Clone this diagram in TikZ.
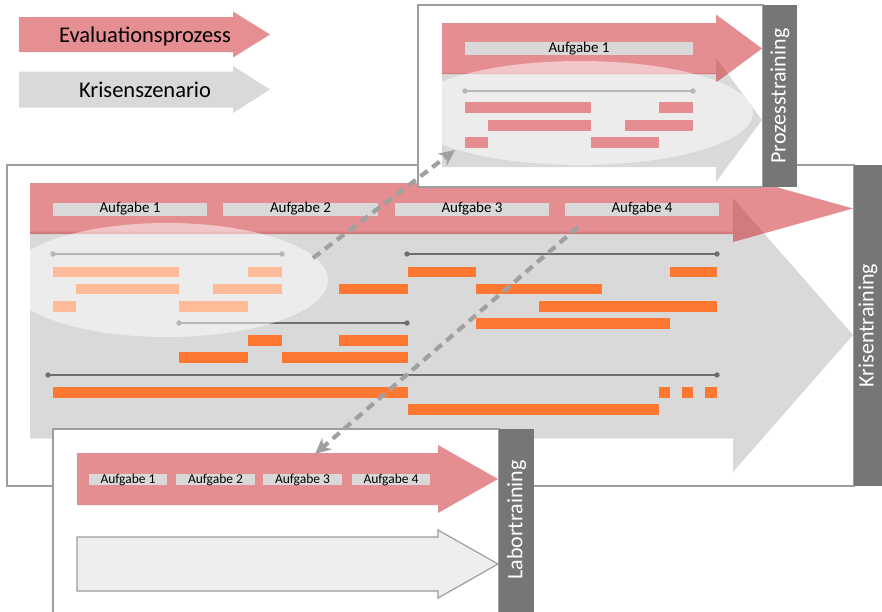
\documentclass[tikz,border=0pt]{standalone}
\usepackage{fontspec}
\setmainfont{Carlito}
\usetikzlibrary{arrows.meta}

\definecolor{evalred}{RGB}{205,31,37}
\definecolor{scengray}{RGB}{217,217,217}
\definecolor{taskgray}{RGB}{217,217,217}
\definecolor{actorange}{RGB}{255,120,50}
\definecolor{tlgray}{RGB}{110,110,110}
\definecolor{bargray}{RGB}{118,118,118}
\definecolor{framegray}{RGB}{158,158,158}
\definecolor{arrowdash}{RGB}{160,160,160}
\definecolor{procpink}{RGB}{229,141,144}
\definecolor{labfill}{RGB}{238,238,238}

% block arrow: [style] x-start, x-head-base, x-tip, y-centre, half body height, half head height
\newcommand\blockarrow[7][]{%
  \path[#1] (#2,#5-#6) -- (#3,#5-#6) -- (#3,#5-#7) -- (#4,#5)
    -- (#3,#5+#7) -- (#3,#5+#6) -- (#2,#5+#6) -- cycle;}

\begin{document}
\begin{tikzpicture}[x=1pt,y=-1pt,
  frame/.style={draw=framegray, line width=1.2pt, fill=white},
  sidebar/.style={fill=bargray},
  sidelabel/.style={text=white, rotate=90, inner sep=0pt,
    font=\fontsize{22}{26}\selectfont},
  evalarrow/.style={fill=evalred, fill opacity=.5},
  scenarrow/.style={fill=scengray},
  labarrow/.style={fill=labfill, draw=framegray, line width=1.2pt},
  task/.style={fill=taskgray, inner sep=0pt, minimum height=11.5pt,
    font=\fontsize{15}{17}\selectfont},
  smalltask/.style={task, minimum height=11pt, font=\fontsize{13.5}{15}\selectfont},
  timeline/.style={draw=tlgray, line width=1.5pt},
  action/.style={fill=actorange},
  procbar/.style={fill=procpink},
  focus/.style={fill=white, fill opacity=.5},
  dasharrow/.style={draw=arrowdash, line width=4.2pt, dash pattern=on 9pt off 6pt,
    -{Stealth[length=16pt,width=15pt]}},
  legendtext/.style={font=\fontsize{22.5}{26}\selectfont, anchor=base, inner sep=0pt}]

\useasboundingbox (0,0) rectangle (882,611);
\clip (0,0) rectangle (882,611);

% ---------------- Krisentraining ----------------
\draw[frame] (7,165) rectangle (854,486);
\fill[sidebar] (854,165) rectangle (882,486);
\node[sidelabel] (kris-label) at (868,325.5) {Krisentraining};

\blockarrow[scenarrow]{30}{733}{853}{335}{103.5}{137}
\blockarrow[evalarrow]{30}{733}{853}{208.5}{25.5}{33.5}

\node[task, minimum width=154pt] (k-a1) at (130,209) {Aufgabe 1};
\node[task, minimum width=155pt] (k-a2) at (300.5,209) {Aufgabe 2};
\node[task, minimum width=154pt] (k-a3) at (472,209) {Aufgabe 3};
\node[task, minimum width=154pt] (k-a4) at (642,209) {Aufgabe 4};

% time lines
\foreach \a/\b/\y in {53/282/254, 407/717/254, 179/407/323, 48/717/375}{
  \draw[timeline] (\a,\y) -- (\b,\y);
  \fill[tlgray] (\a,\y) circle[radius=2.7pt] (\b,\y) circle[radius=2.7pt];
}

% actions
\foreach \a/\b/\y in {53/179/266.5, 248/282/266.5, 408/476/266.5, 670/717/266.5,
    76/179/283.5, 213/282/283.5, 339/408/283.5, 476/602/283.5,
    53/76/301, 179/248/301, 539/717/301,
    476/670/318,
    248/282/335, 339/408/335,
    179/248/352, 282/408/352,
    53/408/387, 659/670/387, 682/693/387, 705/717/387,
    408/659/404}{
  \fill[action] (\a,\y) rectangle (\b,\y+10.5);
}

% highlighted section, kept inside the scenario arrow
\begin{scope}
  \clip (30,175) rectangle (733,438);
  \fill[focus] (167,280) ellipse[x radius=161, y radius=57];
\end{scope}

% ---------------- Prozesstraining ----------------
\draw[frame] (418,5) rectangle (763,187);
\fill[sidebar] (763,5) rectangle (797,187);
\node[sidelabel] (proz-label) at (780,96) {Prozesstraining};

\blockarrow[scenarrow]{442}{716}{762}{120}{47}{62}
\blockarrow[evalarrow]{442}{716}{762}{48.5}{25.5}{34}
\node[task, minimum width=228pt, minimum height=11pt] (p-a1) at (579,48.5) {Aufgabe 1};

\draw[timeline] (465,91) -- (693,91);
\fill[tlgray] (465,91) circle[radius=2.7pt] (693,91) circle[radius=2.7pt];

\begin{scope}
  \clip (442,14) rectangle (762,182);
  \fill[focus] (580,113) ellipse[x radius=173, y radius=52];
\end{scope}

\foreach \a/\b/\y in {465/591/102, 659/693/102,
    488/591/119.5, 625/693/119.5,
    465/488/137, 591/659/137}{
  \fill[procbar] (\a,\y) rectangle (\b,\y+11);
}

% ---------------- Labortraining ----------------
\draw[frame] (53,429) rectangle (499,620);
\fill[sidebar] (499,429) rectangle (534,620);
\node[sidelabel] (lab-label) at (516.5,520) {Labortraining};

\blockarrow[evalarrow]{77}{438}{498}{479}{26}{34}
\blockarrow[labarrow]{77}{438}{498}{564}{27}{34}

\node[smalltask, minimum width=78pt] (l-a1) at (128,479.5) {Aufgabe 1};
\node[smalltask, minimum width=79pt] (l-a2) at (215.5,479.5) {Aufgabe 2};
\node[smalltask, minimum width=79pt] (l-a3) at (302.5,479.5) {Aufgabe 3};
\node[smalltask, minimum width=78pt] (l-a4) at (391,479.5) {Aufgabe 4};

% ---------------- zoom connectors ----------------
\coordinate (kris-focus) at (313,258);
\coordinate (proz-entry) at (455,150);
\coordinate (kris-task) at (578,227);
\coordinate (lab-entry) at (315,454);
\draw[dasharrow] (kris-focus) -- (proz-entry);
\draw[dasharrow] (kris-task) -- (lab-entry);

% ---------------- legend ----------------
\blockarrow[evalarrow]{19}{233}{270}{34.5}{17.5}{23}
\blockarrow[scenarrow]{19}{233}{270}{89.5}{18}{23.5}
\node[legendtext] (leg-eval) at (145,42) {Evaluationsprozess};
\node[legendtext] (leg-scen) at (145,97) {Krisenszenario};

\end{tikzpicture}
\end{document}
